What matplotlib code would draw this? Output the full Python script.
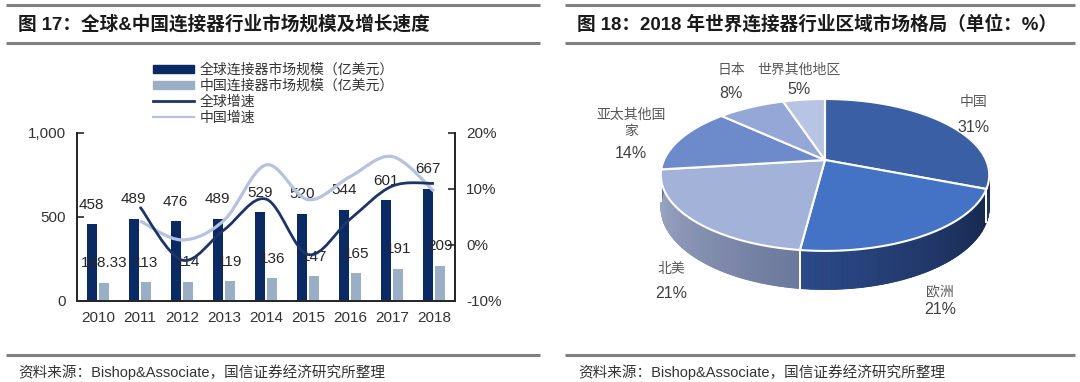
import numpy as np
import matplotlib
matplotlib.use("Agg")
import matplotlib.pyplot as plt
from matplotlib.path import Path
from matplotlib.patches import PathPatch, Polygon, Patch
from matplotlib.lines import Line2D

plt.rcParams['font.family'] = ['Liberation Sans', 'Noto Sans CJK SC', 'DejaVu Sans']

# ---------------- data ----------------
years = ['2010', '2011', '2012', '2013', '2014', '2015', '2016', '2017', '2018']
global_size = [458, 489, 476, 489, 529, 520, 544, 601, 667]
china_size = [108.33, 113, 114, 119, 136, 147, 165, 191, 209]
global_label = ['458', '489', '476', '489', '529', '520', '544', '601', '667']
china_label = ['108.33', '113', '114', '119', '136', '147', '165', '191', '209']
global_growth = [6.8, -2.7, 2.7, 8.2, -1.7, 4.6, 10.5, 11.0]   # %, 2011-2018
china_growth = [4.3, 0.9, 4.4, 14.3, 8.1, 12.2, 15.8, 9.6]     # %, 2011-2018

regions = ['中国', '欧洲', '北美', '亚太其他国\n家', '日本', '世界其他地区']
shares = [31, 21, 21, 14, 8, 5]

# ---------------- figure ----------------
W, H = 1080, 382
fig = plt.figure(figsize=(W / 100, H / 100), dpi=100)
bg = fig.add_axes([0, 0, 1, 1])
bg.set_xlim(0, W)
bg.set_ylim(H, 0)
bg.axis('off')

grey = '#808080'
for x0, x1 in [(6, 540), (565, 1075)]:
    bg.plot([x0, x1], [5, 5], color=grey, lw=2.2, solid_capstyle='butt')
    bg.plot([x0, x1], [43, 43], color=grey, lw=2.2, solid_capstyle='butt')
    bg.plot([x0, x1], [355, 355], color=grey, lw=2.2, solid_capstyle='butt')

cjk = ['Noto Sans CJK SC', 'DejaVu Sans']
mixf = ['Liberation Sans', 'Noto Sans CJK SC', 'DejaVu Sans']
bg.text(18, 24, '图 17：全球&中国连接器行业市场规模及增长速度', fontsize=13.4,
        fontweight='bold', family=mixf, va='center', color='#1a1a1a')
bg.text(577, 24, '图 18：2018 年世界连接器行业区域市场格局（单位：%）', fontsize=13.4,
        fontweight='bold', family=mixf, va='center', color='#1a1a1a')
for x0 in [18, 578]:
    bg.text(x0, 372, '资料来源：Bishop&Associate，国信证券经济研究所整理',
            fontsize=10.5, family=mixf, va='center', color='#333333')

# ---------------- left chart ----------------
L, R, B, T = 77, 455, 301, 133
ax = fig.add_axes([L / W, 1 - B / H, (R - L) / W, (B - T) / H])
ax2 = ax.twinx()
x = np.arange(len(years))
bw = 0.24
c_glob = '#0b2a63'
c_chn = '#9aaec6'
ax.bar(x - 0.15, global_size, bw, color=c_glob, zorder=2)
ax.bar(x + 0.15, china_size, bw, color=c_chn, zorder=2)
ax.set_xlim(-0.5, len(years) - 0.5)
ax.set_ylim(0, 1000)
ax.set_yticks([0, 500, 1000])
ax.set_yticklabels(['0', '500', '1,000'])
ax.set_xticks(x)
ax.set_xticklabels(years)
ax2.set_ylim(-10, 20)
ax2.set_yticks([-10, 0, 10, 20])
ax2.set_yticklabels(['-10%', '0%', '10%', '20%'])

for a in (ax, ax2):
    a.spines['top'].set_visible(False)
    for s in ('left', 'right', 'bottom'):
        a.spines[s].set_color('#262626')
        a.spines[s].set_linewidth(1.3)
    a.tick_params(axis='y', direction='in', length=5, width=1.2, colors='#262626',
                  labelsize=11, labelcolor='#333333', pad=8)
ax.tick_params(axis='x', length=0, labelsize=11, labelcolor='#333333', pad=7)
ax.patch.set_visible(False)

for i in range(len(years)):
    ax.annotate(global_label[i], (x[i] - 0.15, global_size[i]), xytext=(0, 14),
                textcoords='offset points', ha='center', va='center',
                fontsize=11, color='#262626', zorder=5)
    ax.annotate(china_label[i], (x[i] + 0.15, china_size[i]), xytext=(0, 14),
                textcoords='offset points', ha='center', va='center',
                fontsize=11, color='#262626', zorder=5)


def smooth_path(xs, ys):
    pts = np.column_stack([xs, ys]).astype(float)
    n = len(pts)
    verts = [pts[0]]
    codes = [Path.MOVETO]
    for i in range(n - 1):
        p0 = pts[i - 1] if i > 0 else pts[i]
        p1 = pts[i]
        p2 = pts[i + 1]
        p3 = pts[i + 2] if i + 2 < n else pts[i + 1]
        c1 = p1 + (p2 - p0) / 6.0
        c2 = p2 - (p3 - p1) / 6.0
        verts += [c1, c2, p2]
        codes += [Path.CURVE4] * 3
    return Path(verts, codes)


gx = x[1:]
c_gline = '#1c3566'
c_cline = '#b5c3de'
ax2.add_patch(PathPatch(smooth_path(gx, china_growth), fill=False,
                        edgecolor=c_cline, lw=2.3, zorder=3))
ax2.add_patch(PathPatch(smooth_path(gx, global_growth), fill=False,
                        edgecolor=c_gline, lw=2.0, zorder=4))

handles = [Patch(color=c_glob), Patch(color=c_chn),
           Line2D([], [], color=c_gline, lw=2.0),
           Line2D([], [], color=c_cline, lw=1.6)]
labels = ['全球连接器市场规模（亿美元）', '中国连接器市场规模（亿美元）', '全球增速', '中国增速']
leg = fig.legend(handles, labels, loc='upper left',
                 bbox_to_anchor=(153 / W, 1 - 63 / H), frameon=False,
                 prop={'family': cjk, 'size': 10}, handlelength=2.95,
                 handleheight=0.5, labelspacing=0.13, handletextpad=0.4,
                 borderpad=0, borderaxespad=0)
for t in leg.get_texts():
    t.set_color('#333333')

# ---------------- right chart: 3D pie ----------------
cx, cy = 825.0, 160.0
rx, ry, k, depth = 161.0, 73.0, 0.197, 31.0
top_cols = ['#3a5fa5', '#4472c4', '#a3b2d8', '#6d8bcb', '#95a7d6', '#b8c4e4']
side_light = ['#22396b', '#2c4a8a', '#a2adca', '#6f84b8', '#8a9acb', '#a7b4d6']
side_dark = ['#1a2b52', '#17274b', '#6c789b', '#55699c', '#7282ab', '#8e9cc0']


def proj(th, drop=0.0):
    z = np.sin(th)
    f = 1.0 / (1.0 + k * z)
    return cx + rx * np.cos(th) * f, cy - ry * z * f + drop * f


total = float(sum(shares))
angles = [np.pi / 2]
for s in shares:
    angles.append(angles[-1] - 2 * np.pi * s / total)


def mix(c1, c2, t):
    t = float(np.clip(t, 0.0, 1.0))
    a = np.array(matplotlib.colors.to_rgb(c1))
    b = np.array(matplotlib.colors.to_rgb(c2))
    return tuple(np.clip(a * (1 - t) + b * t, 0.0, 1.0))


# sides (front half: angles between -pi and 0)
for i in range(len(shares)):
    a0, a1 = angles[i], angles[i + 1]   # a0 > a1
    hi = min(a0, 0.0)
    lo = max(a1, -np.pi)
    if hi <= lo:
        continue
    th = np.linspace(hi, lo, 100)
    xt, yt = proj(th)
    xb, yb = proj(th, depth)
    base = np.column_stack([np.r_[xt, xb[::-1]], np.r_[yt, yb[::-1]]])
    bg.add_patch(Polygon(base, closed=True, facecolor=mix(side_light[i], side_dark[i], 0.5),
                         edgecolor='none', zorder=1.5))
    nstrip = 50
    edges = np.linspace(lo, hi, nstrip + 1)
    for j in range(nstrip):
        th = np.linspace(edges[j], edges[j + 1], 4)
        xt, yt = proj(th)
        xb, yb = proj(th, depth)
        poly = np.column_stack([np.r_[xt, xb[::-1]], np.r_[yt, yb[::-1]]])
        col = mix(side_light[i], side_dark[i], (j + 0.5) / nstrip)
        bg.add_patch(Polygon(poly, closed=True, facecolor=col, edgecolor=col,
                             lw=0.6, zorder=2))
    for a in (a0, a1):
        if -np.pi < a < 0:
            x1_, y1_ = proj(a)
            x2_, y2_ = proj(a, depth)
            bg.plot([x1_, x2_], [y1_, y2_], color='white', lw=1.3, zorder=3)

# top faces
for i in range(len(shares)):
    th = np.linspace(angles[i], angles[i + 1], 120)
    xs, ys = proj(th)
    poly = np.column_stack([np.r_[cx, xs], np.r_[cy, ys]])
    bg.add_patch(Polygon(poly, closed=True, facecolor=top_cols[i],
                         edgecolor='white', lw=1.5, zorder=4))

lab_pos = [(974, 102, 127), (940, 291, 309), (671, 269, 293),
           (631, 123, 153), (731, 70, 94), (799, 70, 90)]
for (name, s, (lx, ly, py)) in zip(regions, shares, lab_pos):
    bg.text(lx, ly, name, ha='center', va='center', fontsize=10, family=cjk,
            color='#595959', linespacing=1.25, zorder=6)
    bg.text(lx, py, f'{s}%', ha='center', va='center', fontsize=11.5,
            color='#404040', zorder=6)

fig.savefig('out.png', dpi=100)
